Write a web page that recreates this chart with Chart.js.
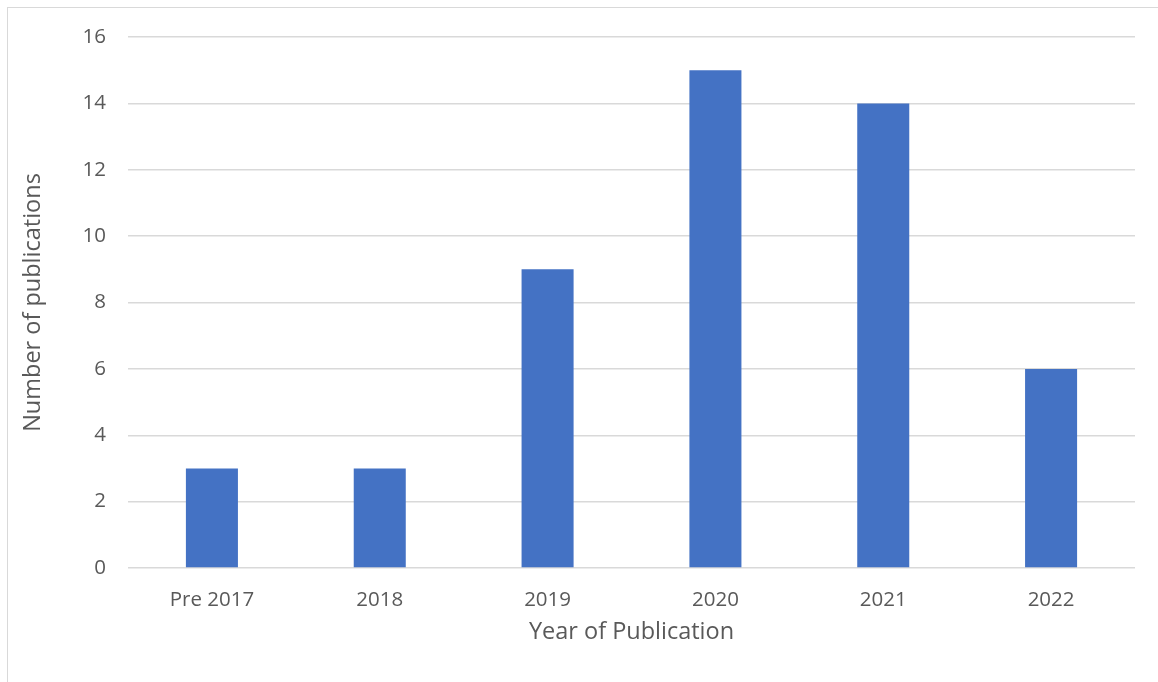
<!DOCTYPE html>
<html>
<head>
<meta charset="utf-8">
<script src="https://cdn.jsdelivr.net/npm/chart.js"></script>
<style>
  html, body { margin: 0; padding: 0; background: #fff; }
  #wrap { position: relative; width: 1158px; height: 682px; overflow: hidden; }
  #frame { position: absolute; left: 7px; top: 7px; width: 1300px; height: 800px; border: 1.5px solid #d9d9d9; }
  canvas { position: absolute; left: 0; top: 0; }
</style>
</head>
<body>
<div id="wrap">
  <div id="frame"></div>
  <canvas id="chart" width="1158" height="682"></canvas>
</div>
<script>
const categories = ['Pre 2017', '2018', '2019', '2020', '2021', '2022'];
const publications = [3, 3, 9, 15, 14, 6];
const yTicks = [0, 2, 4, 6, 8, 10, 12, 14, 16];

const fontFamily = "'Open Sans', 'Liberation Sans', sans-serif";
const textColor = '#595959';
const gridColor = '#d9d9d9';

const ctx = document.getElementById('chart').getContext('2d');
const chart = new Chart(ctx, {
    type: 'bar',
    data: {
        labels: categories,
        datasets: [{
            label: 'Number of publications',
            data: publications,
            backgroundColor: '#4472c4',
            borderWidth: 0,
            categoryPercentage: 1,
            barPercentage: 0.31
        }]
    },
    options: {
        responsive: false,
        animation: false,
        devicePixelRatio: 1,
        layout: {
            padding: { left: 0, right: 23, top: 37, bottom: 36 }
        },
        plugins: {
            legend: { display: false },
            tooltip: { enabled: false }
        },
        scales: {
            x: {
                grid: { display: false, drawTicks: false },
                border: { display: false },
                ticks: {
                    color: textColor,
                    font: { family: fontFamily, size: 20.5 },
                    padding: 20
                },
                title: {
                    display: true,
                    text: 'Year of Publication',
                    color: textColor,
                    font: { family: fontFamily, size: 23.5 },
                    padding: { top: 0, bottom: 0 }
                },
                afterFit: (scale) => { scale.height = 78; }
            },
            y: {
                min: 0,
                max: 16,
                afterBuildTicks: (scale) => {
                    scale.ticks = yTicks.map(v => ({ value: v }));
                },
                grid: {
                    color: gridColor,
                    lineWidth: 1.5,
                    drawTicks: false
                },
                border: { display: false },
                ticks: {
                    color: textColor,
                    font: { family: fontFamily, size: 20.5 },
                    padding: 22
                },
                title: {
                    display: true,
                    text: 'Number of publications',
                    color: textColor,
                    font: { family: fontFamily, size: 23.5 },
                    padding: { top: 19, bottom: 0 }
                },
                afterFit: (scale) => { scale.width = 128; }
            }
        }
    }
});
</script>
</body>
</html>
